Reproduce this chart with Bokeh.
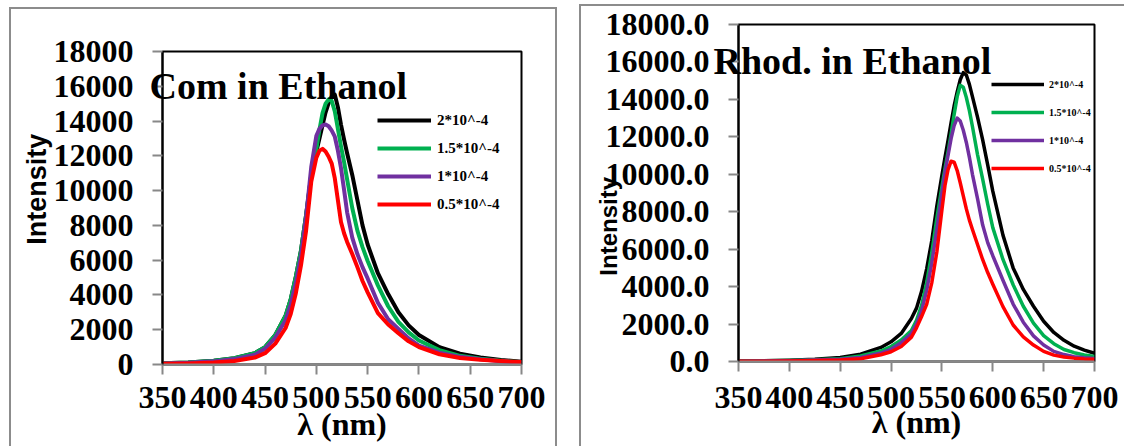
from bokeh.plotting import figure
from bokeh.models import Range1d, FixedTicker, PrintfTickFormatter, Legend, LegendItem
from bokeh.embed import file_html
from bokeh.resources import INLINE

# ---------------- data ----------------
concentration_labels = ["2*10^-4", "1.5*10^-4", "1*10^-4", "0.5*10^-4"]
series_colors = ["#000000", "#00B050", "#7030A0", "#FF0000"]
x_ticks = [350, 400, 450, 500, 550, 600, 650, 700]
y_ticks = [0, 2000, 4000, 6000, 8000, 10000, 12000, 14000, 16000, 18000]

# Coumarin in ethanol
com_wavelength = [350, 375, 400, 420, 440, 450, 460, 470, 475, 480, 485, 490, 495, 500,
                  503, 506, 509, 512, 515, 518, 521, 524, 527, 530, 535, 540, 545, 550,
                  560, 570, 580, 590, 600, 620, 640, 660, 680, 700]
com_2e4 = [70, 120, 210, 360, 650, 1000, 1700, 2800, 3750, 5050, 6550, 8600, 10900, 12250,
           13000, 13750, 14500, 15050, 15420, 15520, 14800, 13800, 12950, 12150, 10900, 9450, 8000, 6900,
           5250, 4050, 3000, 2250, 1700, 1000, 620, 400, 260, 160]
com_15e4 = [70, 120, 210, 360, 650, 1000, 1700, 2800, 3750, 5050, 6550, 8600, 10800, 12400,
            13500, 14450, 15000, 15250, 15150, 14550, 13550, 12550, 11650, 10650, 9000, 7700, 6750, 5950,
            4550, 3350, 2450, 1850, 1380, 830, 500, 330, 210, 130]
com_1e4 = [60, 100, 180, 310, 560, 900, 1550, 2550, 3450, 4700, 6250, 8500, 11350, 13150,
           13550, 13750, 13800, 13700, 13450, 13100, 12300, 11300, 10050, 8750, 7300, 6350, 5600, 4950,
           3550, 2600, 2050, 1500, 1080, 680, 440, 300, 190, 110]
com_05e4 = [40, 60, 110, 200, 400, 650, 1200, 2100, 2900, 4100, 5700, 7700, 10500, 11900,
            12300, 12400, 12250, 11950, 11550, 10700, 9450, 8200, 7550, 7050, 6350, 5600, 4800, 4150,
            2950, 2300, 1800, 1330, 1000, 590, 370, 270, 200, 140]

# Rhodamine in ethanol
rho_wavelength = [350, 375, 400, 425, 450, 470, 490, 500, 510, 520, 525, 530, 535, 540, 545,
                  550, 553, 556, 559, 562, 565, 568, 571, 574, 577, 580, 585, 590, 595, 600,
                  610, 620, 630, 640, 650, 660, 670, 680, 690, 700]
rho_2e4 = [30, 45, 70, 120, 220, 390, 750, 1050, 1500, 2300, 2850, 3750, 4950, 6450, 8300,
           9950, 10900, 11800, 12750, 13650, 14400, 15050, 15430, 15300, 14800, 14150, 13050, 11850, 10500, 9100,
           6750, 5000, 3850, 2950, 2150, 1550, 1130, 820, 610, 440]
rho_15e4 = [25, 35, 55, 90, 150, 290, 560, 800, 1150, 1650, 2200, 3000, 4200, 5800, 7650,
            9350, 10300, 11200, 12150, 13200, 14150, 14750, 14650, 14100, 13400, 12550, 11050, 9750, 8400, 7150,
            5450, 4100, 2950, 2050, 1380, 950, 640, 470, 350, 270]
rho_1e4 = [20, 30, 45, 75, 120, 220, 450, 650, 1000, 1500, 2000, 2700, 3800, 5250, 7050,
           9000, 10100, 11000, 11900, 12600, 13000, 12850, 12350, 11700, 10900, 10000, 8700, 7300, 6350, 5650,
           4340, 3070, 2100, 1370, 880, 540, 370, 260, 200, 160]
rho_05e4 = [15, 20, 30, 50, 80, 150, 360, 520, 800, 1300, 1800, 2400, 3050, 4200, 5850,
            8100, 9400, 10250, 10700, 10650, 10200, 9550, 8850, 8150, 7550, 7050, 6250, 5450, 4750, 4130,
            2930, 1950, 1320, 880, 540, 340, 240, 180, 140, 120]

SERIF = "Liberation Serif"
SANS = "Liberation Sans"
BOX = "2px solid #8c8c8c"
NBSP = "\u00a0"


def make_panel(width, height, borders, xs, series, y_fmt, y_label,
               ylab_size, ylab_standoff, xlab_standoff, xtick_standoff,
               line_w, legend_loc, legend_font, legend_glyph_w, legend_standoff,
               title, title_offset, title_standoff):
    left, right, top, bottom = borders
    p = figure(width=width, height=height, output_backend="svg", toolbar_location=None,
               x_range=Range1d(350, 700), y_range=Range1d(0, 18000),
               min_border_left=left, min_border_right=right,
               min_border_top=top, min_border_bottom=bottom)
    p.grid.visible = False
    p.background_fill_color = "white"
    p.border_fill_color = "white"
    p.outline_line_color = "black"
    p.outline_line_width = 2

    renderers = []
    for ys, c in zip(series, series_colors):
        renderers.append(p.line(xs, ys, line_color=c, line_width=line_w, line_join="round"))

    xa = p.xaxis[0]
    xa.ticker = FixedTicker(ticks=x_ticks)
    xa.axis_line_color = "#888888"
    xa.axis_line_width = 2
    xa.major_tick_line_color = "#888888"
    xa.major_tick_line_width = 2
    xa.major_tick_out = 10
    xa.major_tick_in = 0
    xa.minor_tick_line_color = None
    xa.major_label_text_font = SERIF
    xa.major_label_text_font_style = "bold"
    xa.major_label_text_font_size = "32px"
    xa.major_label_text_color = "black"
    xa.major_label_standoff = xtick_standoff
    xa.axis_label = "λ (nm)"
    xa.axis_label_text_font = SERIF
    xa.axis_label_text_font_style = "bold"
    xa.axis_label_text_font_size = "32px"
    xa.axis_label_text_color = "black"
    xa.axis_label_standoff = xlab_standoff

    ya = p.yaxis[0]
    ya.ticker = FixedTicker(ticks=y_ticks)
    ya.formatter = PrintfTickFormatter(format=y_fmt)
    ya.axis_line_color = "black"
    ya.axis_line_width = 2
    ya.major_tick_line_color = "#888888"
    ya.major_tick_line_width = 2
    ya.major_tick_out = 10
    ya.major_tick_in = 0
    ya.minor_tick_line_color = None
    ya.major_label_text_font = SERIF
    ya.major_label_text_font_style = "bold"
    ya.major_label_text_font_size = "32px"
    ya.major_label_text_color = "black"
    ya.major_label_standoff = 19
    ya.axis_label = y_label
    ya.axis_label_text_font = SANS
    ya.axis_label_text_font_style = "bold"
    ya.axis_label_text_font_size = ylab_size
    ya.axis_label_text_color = "black"
    ya.axis_label_standoff = ylab_standoff

    legend = Legend(items=[LegendItem(label=lab, renderers=[r])
                           for lab, r in zip(concentration_labels, renderers)],
                    location=legend_loc, orientation="vertical",
                    label_text_font=SERIF, label_text_font_style="bold",
                    label_text_font_size=legend_font, label_text_color="black",
                    glyph_width=legend_glyph_w, glyph_height=20, label_height=20,
                    label_standoff=legend_standoff, spacing=8, padding=0, margin=0,
                    border_line_color=None, background_fill_alpha=0)
    p.add_layout(legend)

    # chart title drawn over the upper part of the frame
    p.title.text = title
    p.title.align = "left"
    p.title.vertical_align = "bottom"
    p.title.offset = title_offset
    p.title.standoff = title_standoff
    p.title.text_font = SERIF
    p.title.text_font_style = "bold"
    p.title.text_font_size = "38px"
    p.title.text_color = "black"
    return p


# Left panel: Coumarin (label padded so it sits a little above the frame's middle)
p1 = make_panel(544, 437, (151, 38, 42, 84), com_wavelength,
                [com_2e4, com_15e4, com_1e4, com_05e4], "%d", NBSP * 5 + "Intensity",
                "27px", -1, -5, 12, 4, (215, 150), "15px", 54, 6,
                "Com in Ethanol", -13, -110)

# Right panel: Rhodamine (label padded so it sits below the frame's middle)
p2 = make_panel(543, 440, (157, 32, 18, 87), rho_wavelength,
                [rho_2e4, rho_15e4, rho_1e4, rho_05e4], "%.1f", "Intensity" + NBSP * 10,
                "24px", -19, -7, 15, 3.5, (253, 183), "10px", 53, 5,
                "Rhod. in Ethanol", -25, -115)

p1.styles = {"position": "absolute", "left": "9px", "top": "7px", "box-sizing": "content-box",
             "border-top": BOX, "border-left": BOX, "border-right": BOX}
p2.styles = {"position": "absolute", "left": "579px", "top": "4px", "box-sizing": "content-box",
             "border-top": BOX, "border-left": BOX}

with open("out.html", "w") as f:
    f.write(file_html([p1, p2], INLINE))
